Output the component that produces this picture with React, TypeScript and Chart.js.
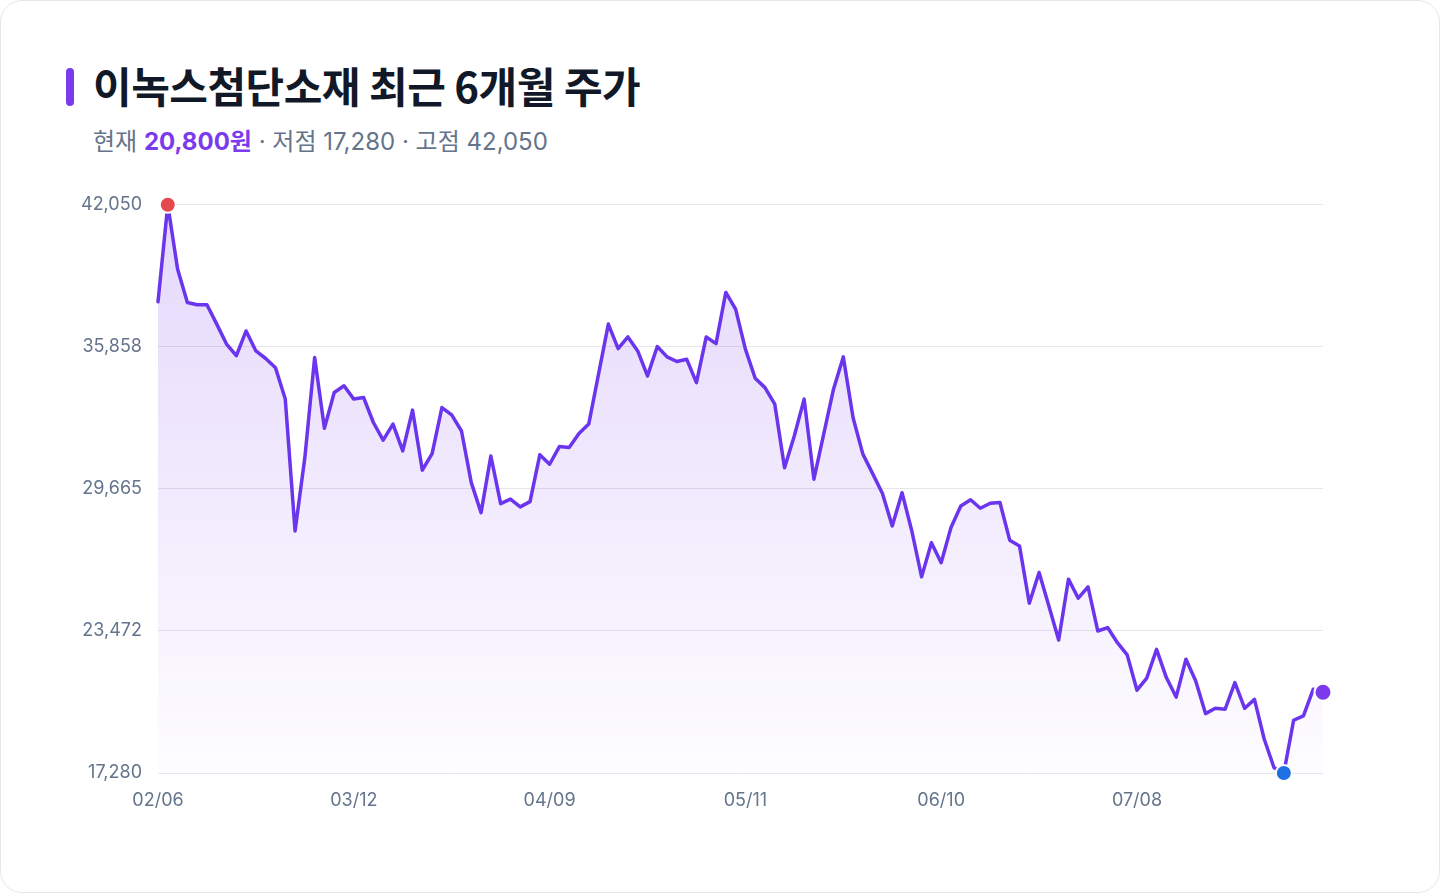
import { useEffect, useRef } from 'react';
import { Chart, registerables } from 'chart.js';

Chart.register(...registerables);

const dates: string[] = [
  '02/06', '02/09', '02/10', '02/11', '02/12', '02/13', '02/19', '02/20', '02/23', '02/24',
  '02/25', '02/26', '02/27', '03/03', '03/04', '03/05', '03/06', '03/09', '03/10', '03/11',
  '03/12', '03/13', '03/16', '03/17', '03/18', '03/19', '03/20', '03/23', '03/24', '03/25',
  '03/26', '03/27', '03/30', '03/31', '04/01', '04/02', '04/03', '04/06', '04/07', '04/08',
  '04/09', '04/10', '04/13', '04/14', '04/15', '04/16', '04/17', '04/20', '04/21', '04/22',
  '04/23', '04/24', '04/27', '04/28', '04/29', '04/30', '05/04', '05/06', '05/07', '05/08',
  '05/11', '05/12', '05/13', '05/14', '05/15', '05/18', '05/19', '05/20', '05/21', '05/22',
  '05/26', '05/27', '05/28', '05/29', '06/01', '06/02', '06/04', '06/05', '06/08', '06/09',
  '06/10', '06/11', '06/12', '06/15', '06/16', '06/17', '06/18', '06/19', '06/22', '06/23',
  '06/24', '06/25', '06/26', '06/29', '06/30', '07/01', '07/02', '07/03', '07/06', '07/07',
  '07/08', '07/09', '07/10', '07/13', '07/14', '07/15', '07/16', '07/17', '07/20', '07/21',
  '07/22', '07/23', '07/24', '07/27', '07/28', '07/29', '07/30', '07/31', '08/03', '08/04',
];

const closePrices: number[] = [
  37820, 42050, 39250, 37790, 37690, 37690, 36850, 35980, 35470, 36550,
  35680, 35350, 34950, 33580, 27830, 31030, 35390, 32310, 33870, 34160,
  33580, 33650, 32560, 31790, 32490, 31320, 33100, 30480, 31200, 33210,
  32890, 32190, 29940, 28630, 31100, 29020, 29220, 28880, 29110, 31150,
  30740, 31510, 31470, 32080, 32490, 34670, 36850, 35780, 36290, 35680,
  34590, 35870, 35420, 35220, 35320, 34300, 36290, 36000, 38230, 37500,
  35760, 34490, 34080, 33360, 30590, 31980, 33580, 30090, 32050, 34010,
  35420, 32770, 31180, 30330, 29460, 28050, 29500, 27830, 25830, 27320,
  26450, 27980, 28920, 29190, 28820, 29040, 29070, 27430, 27180, 24680,
  26020, 24560, 23080, 25730, 24900, 25390, 23470, 23620, 22960, 22430,
  20890, 21420, 22670, 21440, 20590, 22240, 21290, 19870, 20100, 20060,
  21220, 20100, 20490, 18750, 17510, 17280, 19580, 19770, 20930, 20800,
];

const xTickLabels: string[] = ['02/06', '03/12', '04/09', '05/11', '06/10', '07/08'];
const yTickValues: number[] = [17280, 23472.5, 29665, 35857.5, 42050];
const yTickLabels: string[] = ['17,280', '23,472', '29,665', '35,858', '42,050'];

const FONT = 'Inter, "Noto Sans CJK KR", "Noto Sans", sans-serif';
const KFONT = '"Noto Sans CJK KR", Inter, sans-serif';
const LINE = '#6a35ec';
const ACCENT = '#7c3aed';

const fmt = (n: number) => n.toLocaleString('en-US');

export default function App() {
  const canvasRef = useRef<HTMLCanvasElement | null>(null);

  useEffect(() => {
    document.body.style.margin = '0';
    const canvas = canvasRef.current;
    if (!canvas) return;

    const hi = Math.max(...closePrices);
    const lo = Math.min(...closePrices);
    const hiIdx = closePrices.indexOf(hi);
    const loIdx = closePrices.indexOf(lo);
    const lastIdx = closePrices.length - 1;

    const marker = (idx: number, color: string, radius: number) => ({
      type: 'line' as const,
      data: [{ x: dates[idx], y: closePrices[idx] }],
      showLine: false,
      pointRadius: radius,
      pointBackgroundColor: color,
      pointBorderColor: '#ffffff',
      pointBorderWidth: 2,
      clip: false as const,
      order: 0,
    });

    const chart = new Chart(canvas, {
      type: 'line',
      data: {
        labels: dates,
        datasets: [
          marker(hiIdx, '#e5484d', 8),
          marker(loIdx, '#1f6fe5', 8),
          marker(lastIdx, ACCENT, 8.5),
          {
            data: closePrices,
            borderColor: LINE,
            borderWidth: 3.5,
            borderJoinStyle: 'round',
            borderCapStyle: 'round',
            pointRadius: 0,
            tension: 0,
            fill: 'start',
            clip: false,
            order: 1,
            backgroundColor: (ctx: any) => {
              const area = ctx.chart.chartArea;
              if (!area) return 'rgba(124,58,237,0.1)';
              const g = ctx.chart.ctx.createLinearGradient(0, area.top, 0, area.bottom);
              g.addColorStop(0, 'rgba(124,58,237,0.2)');
              g.addColorStop(1, 'rgba(124,58,237,0.01)');
              return g;
            },
          },
        ],
      },
      options: {
        animation: false,
        responsive: true,
        maintainAspectRatio: false,
        layout: { padding: { top: 22, right: 38, left: 0, bottom: 0 } },
        plugins: {
          legend: { display: false },
          tooltip: { enabled: false },
        },
        scales: {
          x: {
            type: 'category',
            offset: false,
            grid: { display: false, drawTicks: false },
            border: { display: false },
            afterBuildTicks: (scale: any) => {
              scale.ticks = scale.ticks.filter((t: any) => xTickLabels.includes(dates[t.value]));
            },
            afterFit: (scale: any) => {
              scale.height = 58;
            },
            ticks: {
              autoSkip: false,
              maxRotation: 0,
              padding: 17,
              color: '#64748b',
              font: { family: FONT, size: 18 },
              callback: (v: any) => dates[v as number],
            },
          },
          y: {
            min: 17280,
            max: 42050,
            grid: { color: '#e6e6ec', lineWidth: 1, drawTicks: false },
            border: { display: false },
            afterBuildTicks: (scale: any) => {
              scale.ticks = yTickValues.map((v) => ({ value: v }));
            },
            afterFit: (scale: any) => {
              scale.width = 117;
            },
            ticks: {
              padding: 16,
              color: '#64748b',
              font: { family: FONT, size: 18 },
              callback: (v: any) => {
                const i = yTickValues.indexOf(v as number);
                return i >= 0 ? yTickLabels[i] : '';
              },
            },
          },
        },
      },
    } as any);

    return () => chart.destroy();
  }, []);

  const hi = Math.max(...closePrices);
  const lo = Math.min(...closePrices);
  const last = closePrices[closePrices.length - 1];

  return (
    <div
      style={{
        position: 'relative',
        width: 1440,
        height: 893,
        boxSizing: 'border-box',
        border: '1px solid #e5e7eb',
        borderRadius: 22,
        background: '#ffffff',
        overflow: 'hidden',
        fontFamily: KFONT,
      }}
    >
      <div
        style={{
          position: 'absolute',
          left: 65,
          top: 67,
          width: 8,
          height: 38,
          borderRadius: 4,
          background: ACCENT,
        }}
      />
      <div
        style={{
          position: 'absolute',
          left: 92,
          top: 57,
          fontSize: 42,
          lineHeight: '54px',
          fontWeight: 700,
          color: '#111827',
          letterSpacing: '-0.5px',
          whiteSpace: 'nowrap',
          fontFamily: KFONT,
        }}
      >
        이녹스첨단소재 최근 6개월 주가
      </div>
      <div
        style={{
          position: 'absolute',
          left: 92,
          top: 125,
          fontSize: 24,
          lineHeight: '32px',
          color: '#64748b',
          whiteSpace: 'nowrap',
          fontFamily: FONT,
        }}
      >
        현재 <span style={{ color: ACCENT, fontWeight: 700 }}>{fmt(last)}원</span> · 저점 {fmt(lo)} · 고점 {fmt(hi)}
      </div>
      <div style={{ position: 'absolute', left: 40, top: 177, width: 1320, height: 653 }}>
        <canvas ref={canvasRef} />
      </div>
    </div>
  );
}
